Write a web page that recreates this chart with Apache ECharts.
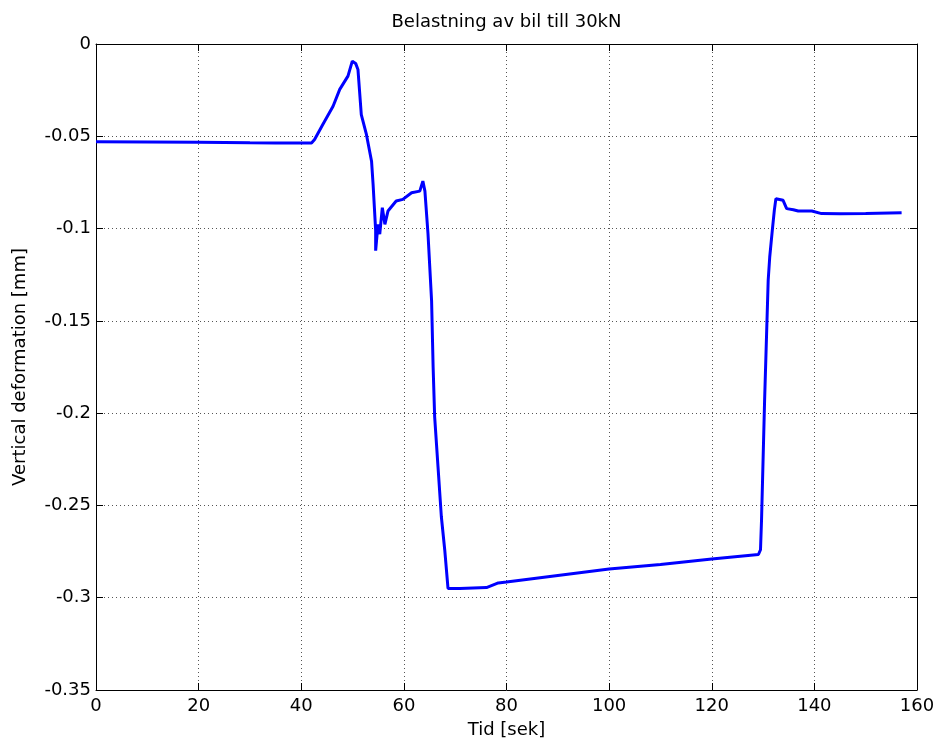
<!DOCTYPE html>
<html>
<head>
<meta charset="utf-8">
<script src="https://cdn.jsdelivr.net/npm/echarts@6/dist/echarts.min.js"></script>
<style>
html, body { margin: 0; padding: 0; background: #fff; }
#chart { width: 938px; height: 749px; }
</style>
</head>
<body>
<div id="chart"></div>
<script>
// Time samples [s] and vertical deformation [mm] of the loaded slab
const tid = [0, 10, 20, 30, 35, 42, 42.6, 44.2, 46.2, 47.5, 49.1, 49.95, 50.6, 51.05, 51.7, 52.7, 53.7, 54.0, 54.5, 54.5, 54.95, 55.3, 55.8, 56.3, 56.9, 58.5, 59.8, 61.5, 63.1, 63.7, 64.1, 64.7, 65.4, 65.7, 66.0, 66.65, 67.3, 67.96, 68.6, 68.9, 70.9, 76.1, 78.4, 80, 90, 100, 110, 120, 129.1, 129.5, 129.7, 130.3, 131.0, 131.3, 131.8, 132.2, 132.5, 133.9, 134.6, 135.9, 136.85, 139.5, 141.4, 145, 150, 157];
const deformation = [-0.0530, -0.0531, -0.0532, -0.0535, -0.0536, -0.0536, -0.0517, -0.0436, -0.0337, -0.0246, -0.0174, -0.0093, -0.0105, -0.0138, -0.0382, -0.049, -0.0635, -0.076, -0.101, -0.112, -0.0977, -0.103, -0.0887, -0.0977, -0.0905, -0.0851, -0.0842, -0.0806, -0.0797, -0.0743, -0.0797, -0.1028, -0.139, -0.175, -0.202, -0.229, -0.256, -0.274, -0.295, -0.2955, -0.2950, -0.2945, -0.292, -0.2915, -0.288, -0.2845, -0.282, -0.279, -0.2766, -0.274, -0.258, -0.193, -0.128, -0.1154, -0.101, -0.090, -0.0838, -0.0847, -0.0892, -0.0898, -0.0905, -0.0905, -0.0919, -0.092, -0.0918, -0.0914];

const titleText = 'Belastning av bil till 30kN';
const xName = 'Tid [sek]';
const yName = 'Vertical deformation [mm]';

const font = 'DejaVu Sans, Liberation Sans, sans-serif';
const fs = 18;
const chart = echarts.init(document.getElementById('chart'), null, { renderer: 'canvas' });

const tick = { show: true, inside: true, length: 7, lineStyle: { color: '#000', width: 1 } };
const frame = { show: true, onZero: false, lineStyle: { color: '#000', width: 1 } };
const grid = { show: true, lineStyle: { type: [1, 3], color: '#555', width: 1 } };

chart.setOption({
  animation: false,
  backgroundColor: '#fff',
  // title centred over the plot area rather than the whole canvas
  graphic: [{
    type: 'text', x: 506.5, y: 22, z: 10,
    style: {
      text: titleText, textAlign: 'center', textVerticalAlign: 'middle',
      font: 'normal ' + fs + 'px ' + font, fill: '#000'
    }
  }],
  grid: { left: 96, right: 21, top: 44, bottom: 59, containLabel: false },
  xAxis: [
    {
      type: 'value', min: 0, max: 160, interval: 20, position: 'bottom',
      name: xName, nameLocation: 'middle', nameGap: 31,
      nameTextStyle: { fontFamily: font, fontSize: fs, color: '#000' },
      axisLine: frame, axisTick: tick, splitLine: grid,
      axisLabel: { fontFamily: font, fontSize: fs, color: '#000', margin: 7 }
    },
    {
      type: 'value', min: 0, max: 160, interval: 20, position: 'top',
      axisLine: frame, axisTick: tick, splitLine: { show: false },
      axisLabel: { show: false }
    }
  ],
  yAxis: [
    {
      type: 'value', min: -0.35, max: 0, interval: 0.05, position: 'left',
      name: yName, nameLocation: 'middle', nameGap: 67, nameRotate: 90,
      nameTextStyle: { fontFamily: font, fontSize: fs, color: '#000' },
      axisLine: frame, axisTick: tick, splitLine: grid,
      axisLabel: {
        fontFamily: font, fontSize: fs, color: '#000', margin: 5,
        formatter: v => String(Math.round(v * 100) / 100)
      }
    },
    {
      type: 'value', min: -0.35, max: 0, interval: 0.05, position: 'right',
      axisLine: frame, axisTick: tick, splitLine: { show: false },
      axisLabel: { show: false }
    }
  ],
  series: [{
    type: 'line',
    data: tid.map((t, i) => [t, deformation[i]]),
    showSymbol: false,
    symbol: 'none',
    lineStyle: { color: '#0000ff', width: 3 },
    xAxisIndex: 0, yAxisIndex: 0
  }]
});
</script>
</body>
</html>
